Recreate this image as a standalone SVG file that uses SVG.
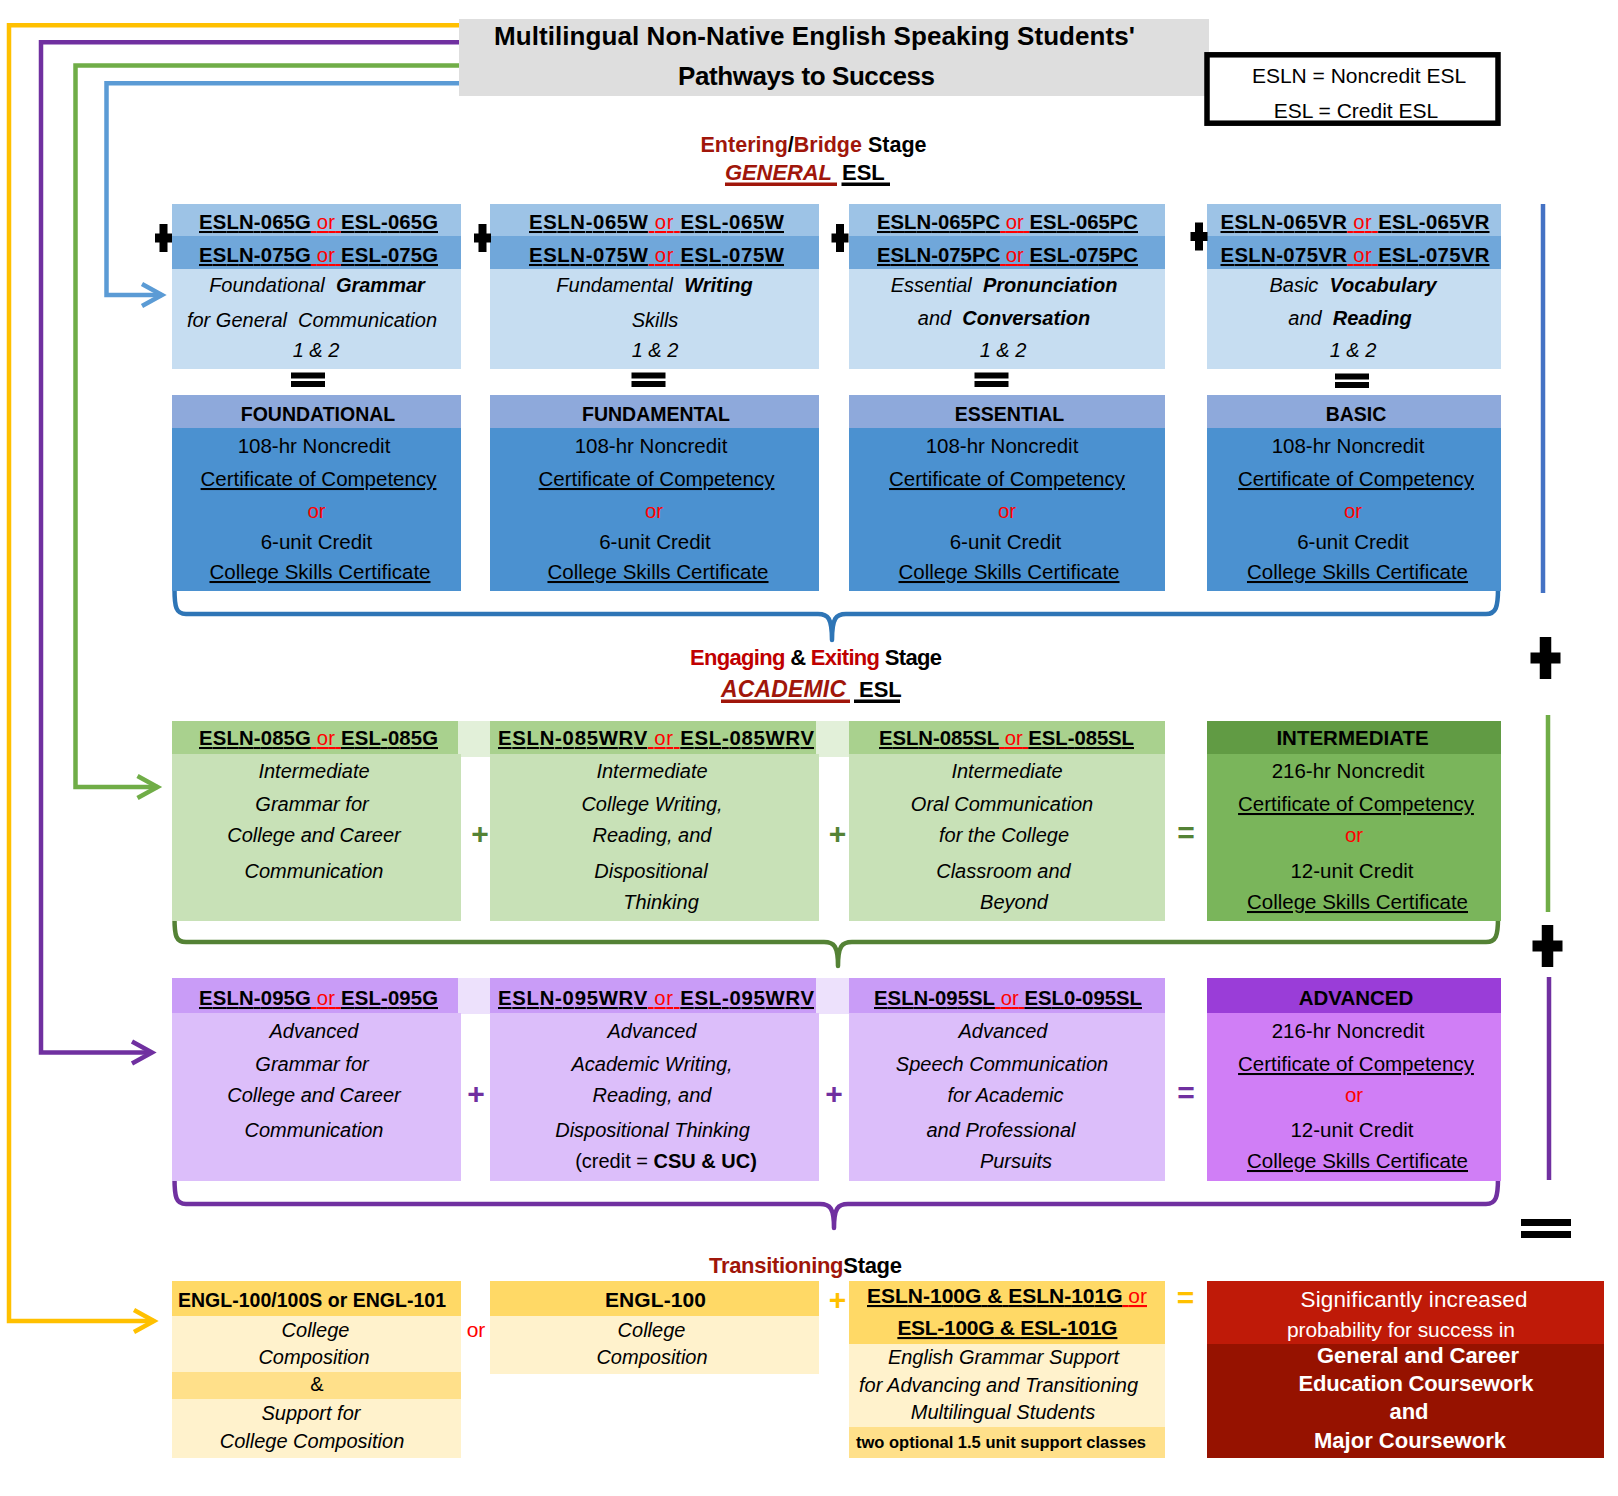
<svg xmlns="http://www.w3.org/2000/svg" width="1618" height="1496" viewBox="0 0 1618 1496">
<defs>
<style>
text{font-family:"Liberation Sans",Arial,sans-serif;fill:#000}
.m{text-anchor:middle}
.b{font-weight:bold}
.i{font-style:italic}
.hdr{font-size:20.3px;font-weight:bold}
.desc{font-size:20px;font-style:italic}
.cert{font-size:20.5px}
.certh{font-size:19.5px;font-weight:bold}
.n{font-weight:normal}
.u{text-decoration:underline;text-decoration-thickness:3px}
.r{fill:#FF0000}
.dr{fill:#A0160A}
.rr{fill:#C00000}
.w{fill:#FFFFFF}
.g{fill:#548235}
.p{fill:#7030A0}
.y{fill:#FFC000}
.op{font-size:30px;font-weight:bold;text-anchor:middle;dominant-baseline:central}
.conn{fill:none;stroke-width:4.5}
.brace{fill:none;stroke-width:4.5;stroke-linejoin:round}
</style>
<marker id="arY" viewBox="-24 -14 30 28" markerWidth="30" markerHeight="28" markerUnits="userSpaceOnUse" refX="0" refY="0" orient="auto" overflow="visible"><path d="M-20,-11 L0,0 L-20,11" fill="none" stroke="#FFC000" stroke-width="4.5"/></marker>
<marker id="arP" viewBox="-24 -14 30 28" markerWidth="30" markerHeight="28" markerUnits="userSpaceOnUse" refX="0" refY="0" orient="auto" overflow="visible"><path d="M-20,-11 L0,0 L-20,11" fill="none" stroke="#7030A0" stroke-width="4.5"/></marker>
<marker id="arG" viewBox="-24 -14 30 28" markerWidth="30" markerHeight="28" markerUnits="userSpaceOnUse" refX="0" refY="0" orient="auto" overflow="visible"><path d="M-20,-11 L0,0 L-20,11" fill="none" stroke="#70AD47" stroke-width="4.5"/></marker>
<marker id="arB" viewBox="-24 -14 30 28" markerWidth="30" markerHeight="28" markerUnits="userSpaceOnUse" refX="0" refY="0" orient="auto" overflow="visible"><path d="M-20,-11 L0,0 L-20,11" fill="none" stroke="#5B9BD5" stroke-width="4.5"/></marker>
<path id="plusS" d="M-4,-14 H4 V-4.5 H8.5 V4.5 H4 V14 H-4 V4.5 H-8.5 V-4.5 H-4 Z"/>
<path id="plusL" d="M-5.75,-21 H5.75 V-5.5 H15 V5.5 H5.75 V21 H-5.75 V5.5 H-15 V-5.5 H-5.75 Z"/>
<g id="eqS"><rect x="-17" y="-7.5" width="34" height="6"/><rect x="-17" y="1" width="34" height="6"/></g>
</defs>
<rect width="1618" height="1496" fill="#FFFFFF"/>

<g id="connectors">
<path class="conn" stroke="#FFC000" d="M459,25.3 H9 V1321 H154" marker-end="url(#arY)"/>
<path class="conn" stroke="#7030A0" d="M459,42.3 H41 V1052.5 H152" marker-end="url(#arP)"/>
<path class="conn" stroke="#70AD47" d="M459,65.5 H75.5 V787 H157.5" marker-end="url(#arG)"/>
<path class="conn" stroke="#5B9BD5" d="M459,83.3 H106.5 V295 H162" marker-end="url(#arB)"/>
<path class="brace" stroke="#2E75B6" d="M174.5,589 C174.5,607 176,614 186,614 L818,614 C828,614 832,618 832,640 C832,618 836,614 846,614 L1486,614 C1496,614 1498,607 1498,589"/>
<path class="brace" stroke="#548235" d="M174.5,918 C174.5,936 176,942 186,942 L824,942 C834,942 838,946 838,966 C838,946 842,942 852,942 L1486,942 C1496,942 1498,936 1498,918"/>
<path class="brace" stroke="#7030A0" d="M174.5,1178 C174.5,1197 176,1204 186,1204 L820,1204 C830,1204 834,1208 834,1228 C834,1208 838,1204 848,1204 L1486,1204 C1496,1204 1498,1197 1498,1178"/>
<line x1="1543" y1="204" x2="1543" y2="593" stroke="#4472C4" stroke-width="4.5"/>
<line x1="1548" y1="715" x2="1548" y2="912" stroke="#70AD47" stroke-width="4.5"/>
<line x1="1549" y1="977" x2="1549" y2="1180" stroke="#7030A0" stroke-width="4.5"/>
</g>

<g id="title">
<rect x="459" y="19" width="750" height="77" fill="#DEDEDE"/>
<text class="b m" x="814.5" y="45" style="font-size:26px" textLength="641">Multilingual Non-Native English Speaking Students'</text>
<text class="b m" x="806.5" y="85" style="font-size:26px" textLength="257">Pathways to Success</text>
</g>

<g id="legend">
<rect x="1207" y="54.8" width="291" height="68.4" fill="#FFFFFF" stroke="#000" stroke-width="5.5"/>
<text class="m" x="1359" y="82.5" style="font-size:21px">ESLN = Noncredit ESL</text>
<text class="m" x="1356" y="118" style="font-size:21px">ESL = Credit ESL</text>
</g>

<g id="stage-general">
<text class="b" x="700.5" y="152" style="font-size:21.5px" textLength="226"><tspan class="dr">Entering</tspan>/<tspan class="dr">Bridge</tspan> Stage</text>
<text class="b i dr" x="725" y="180" style="font-size:22px" textLength="107">GENERAL</text>
<text class="b" x="842" y="180" style="font-size:22px">ESL</text>
<rect x="725" y="182.5" width="112" height="3.5" fill="#A0160A"/>
<rect x="841.5" y="182.5" width="48.5" height="3.5" fill="#000"/>
</g>

<g id="course-grammar-general">
<rect x="172" y="204" width="289" height="32" fill="#9DC3E6"/>
<rect x="172" y="236" width="289" height="33" fill="#70A7DA"/>
<rect x="172" y="269" width="289" height="100" fill="#C6DDF1"/>
<text class="hdr m" x="318.5" y="229" textLength="239"><tspan class="u">ESLN-065G</tspan><tspan class="u r n"> or </tspan><tspan class="u">ESL-065G</tspan></text>
<text class="hdr m" x="318.5" y="262" textLength="239"><tspan class="u">ESLN-075G</tspan><tspan class="u r n"> or </tspan><tspan class="u">ESL-075G</tspan></text>
<text class="desc m" x="317" y="292" xml:space="preserve">Foundational  <tspan class="b">Grammar</tspan></text>
<text class="desc m" x="312" y="327" xml:space="preserve">for General  Communication</text>
<text class="desc m" x="316" y="357">1 &amp; 2</text>
</g>

<g id="course-writing-general">
<rect x="490" y="204" width="329" height="32" fill="#9DC3E6"/>
<rect x="490" y="236" width="329" height="33" fill="#70A7DA"/>
<rect x="490" y="269" width="329" height="100" fill="#C6DDF1"/>
<text class="hdr m" x="656.5" y="229" textLength="255"><tspan class="u">ESLN-065W</tspan><tspan class="u r n"> or </tspan><tspan class="u">ESL-065W</tspan></text>
<text class="hdr m" x="656.5" y="262" textLength="255"><tspan class="u">ESLN-075W</tspan><tspan class="u r n"> or </tspan><tspan class="u">ESL-075W</tspan></text>
<text class="desc m" x="654.5" y="292" xml:space="preserve">Fundamental  <tspan class="b">Writing</tspan></text>
<text class="desc m" x="655" y="327">Skills</text>
<text class="desc m" x="655" y="357">1 &amp; 2</text>
</g>

<g id="course-pronunciation-general">
<rect x="849" y="204" width="316" height="32" fill="#9DC3E6"/>
<rect x="849" y="236" width="316" height="33" fill="#70A7DA"/>
<rect x="849" y="269" width="316" height="100" fill="#C6DDF1"/>
<text class="hdr m" x="1007.5" y="229" textLength="261"><tspan class="u">ESLN-065PC</tspan><tspan class="u r n"> or </tspan><tspan class="u">ESL-065PC</tspan></text>
<text class="hdr m" x="1007.5" y="262" textLength="261"><tspan class="u">ESLN-075PC</tspan><tspan class="u r n"> or </tspan><tspan class="u">ESL-075PC</tspan></text>
<text class="desc m" x="1004" y="292" xml:space="preserve">Essential  <tspan class="b">Pronunciation</tspan></text>
<text class="desc m" x="1004" y="325" xml:space="preserve">and  <tspan class="b">Conversation</tspan></text>
<text class="desc m" x="1003" y="357">1 &amp; 2</text>
</g>

<g id="course-vocabulary-general">
<rect x="1207" y="204" width="294" height="32" fill="#9DC3E6"/>
<rect x="1207" y="236" width="294" height="33" fill="#70A7DA"/>
<rect x="1207" y="269" width="294" height="100" fill="#C6DDF1"/>
<text class="hdr m" x="1355" y="229" textLength="269"><tspan class="u">ESLN-065VR</tspan><tspan class="u r n"> or </tspan><tspan class="u">ESL-065VR</tspan></text>
<text class="hdr m" x="1355" y="262" textLength="269"><tspan class="u">ESLN-075VR</tspan><tspan class="u r n"> or </tspan><tspan class="u">ESL-075VR</tspan></text>
<text class="desc m" x="1353" y="292" xml:space="preserve">Basic  <tspan class="b">Vocabulary</tspan></text>
<text class="desc m" x="1350" y="325" xml:space="preserve">and  <tspan class="b">Reading</tspan></text>
<text class="desc m" x="1353" y="357">1 &amp; 2</text>
</g>

<g id="cert-foundational">
<rect x="172" y="395" width="289" height="33" fill="#8EA9DB"/>
<rect x="172" y="428" width="289" height="163" fill="#4B91D0"/>
<text class="certh m" x="318" y="421">FOUNDATIONAL</text>
<text class="cert m" x="314" y="453">108-hr Noncredit</text>
<text class="cert m u" x="318.5" y="486">Certificate of Competency</text>
<text class="cert m r" x="316.5" y="518">or</text>
<text class="cert m" x="316.5" y="549">6-unit Credit</text>
<text class="cert m u" x="320" y="579">College Skills Certificate</text>
</g>

<g id="cert-fundamental">
<rect x="490" y="395" width="329" height="33" fill="#8EA9DB"/>
<rect x="490" y="428" width="329" height="163" fill="#4B91D0"/>
<text class="certh m" x="656" y="421">FUNDAMENTAL</text>
<text class="cert m" x="651" y="453">108-hr Noncredit</text>
<text class="cert m u" x="656.5" y="486">Certificate of Competency</text>
<text class="cert m r" x="654" y="518">or</text>
<text class="cert m" x="655" y="549">6-unit Credit</text>
<text class="cert m u" x="658" y="579">College Skills Certificate</text>
</g>

<g id="cert-essential">
<rect x="849" y="395" width="316" height="33" fill="#8EA9DB"/>
<rect x="849" y="428" width="316" height="163" fill="#4B91D0"/>
<text class="certh m" x="1009.5" y="421">ESSENTIAL</text>
<text class="cert m" x="1002" y="453">108-hr Noncredit</text>
<text class="cert m u" x="1007" y="486">Certificate of Competency</text>
<text class="cert m r" x="1007" y="518">or</text>
<text class="cert m" x="1005.5" y="549">6-unit Credit</text>
<text class="cert m u" x="1009" y="579">College Skills Certificate</text>
</g>

<g id="cert-basic">
<rect x="1207" y="395" width="294" height="33" fill="#8EA9DB"/>
<rect x="1207" y="428" width="294" height="163" fill="#4B91D0"/>
<text class="certh m" x="1356" y="421">BASIC</text>
<text class="cert m" x="1348" y="453">108-hr Noncredit</text>
<text class="cert m u" x="1356" y="486">Certificate of Competency</text>
<text class="cert m r" x="1353" y="518">or</text>
<text class="cert m" x="1353" y="549">6-unit Credit</text>
<text class="cert m u" x="1357.5" y="579">College Skills Certificate</text>
</g>

<g id="stage-academic">
<text class="b" x="690" y="665" style="font-size:22px" textLength="252"><tspan class="rr">Engaging</tspan> &amp; <tspan class="rr">Exiting</tspan> Stage</text>
<text class="b i dr" x="721" y="697" style="font-size:23px" textLength="125">ACADEMIC</text>
<text class="b" x="859" y="697" style="font-size:22px">ESL</text>
<rect x="721" y="699.5" width="129" height="3.5" fill="#A0160A"/>
<rect x="854" y="699.5" width="46" height="3.5" fill="#000"/>
</g>

<g id="band-intermediate">
<rect x="172" y="721" width="993" height="36" fill="#E2F0D9"/>
</g>

<g id="course-grammar-intermediate">
<rect x="172" y="721" width="286" height="33" fill="#A9D18E"/>
<rect x="172" y="754" width="289" height="167" fill="#C8E1B7"/>
<text class="hdr m" x="318.5" y="745" textLength="239"><tspan class="u">ESLN-085G</tspan><tspan class="u r n"> or </tspan><tspan class="u">ESL-085G</tspan></text>
<text class="desc m" x="314" y="778">Intermediate</text>
<text class="desc m" x="312" y="811">Grammar for</text>
<text class="desc m" x="314" y="842">College and Career</text>
<text class="desc m" x="314" y="878">Communication</text>
</g>

<g id="course-writing-intermediate">
<rect x="490" y="721" width="326" height="33" fill="#A9D18E"/>
<rect x="490" y="754" width="329" height="167" fill="#C8E1B7"/>
<text class="hdr m" x="656" y="745" textLength="316"><tspan class="u">ESLN-085WRV</tspan><tspan class="u r n"> or </tspan><tspan class="u">ESL-085WRV</tspan></text>
<text class="desc m" x="652" y="778">Intermediate</text>
<text class="desc m" x="652" y="811">College Writing,</text>
<text class="desc m" x="652" y="842">Reading, and</text>
<text class="desc m" x="651" y="878">Dispositional</text>
<text class="desc m" x="661" y="909">Thinking</text>
</g>

<g id="course-oral-intermediate">
<rect x="849" y="721" width="316" height="33" fill="#A9D18E"/>
<rect x="849" y="754" width="316" height="167" fill="#C8E1B7"/>
<text class="hdr m" x="1006.5" y="745" textLength="255"><tspan class="u">ESLN-085SL</tspan><tspan class="u r n"> or </tspan><tspan class="u">ESL-085SL</tspan></text>
<text class="desc m" x="1007" y="778">Intermediate</text>
<text class="desc m" x="1002" y="811">Oral Communication</text>
<text class="desc m" x="1004" y="842">for the College</text>
<text class="desc m" x="1003.5" y="878">Classroom and</text>
<text class="desc m" x="1014" y="909">Beyond</text>
</g>

<g id="cert-intermediate">
<rect x="1207" y="721" width="294" height="33" fill="#619B44"/>
<rect x="1207" y="754" width="294" height="167" fill="#7AB55B"/>
<text class="certh m" x="1352.5" y="745" style="font-size:20.5px">INTERMEDIATE</text>
<text class="cert m" x="1348" y="778">216-hr Noncredit</text>
<text class="cert m u" x="1356" y="811">Certificate of Competency</text>
<text class="cert m r" x="1354" y="842">or</text>
<text class="cert m" x="1352" y="878">12-unit Credit</text>
<text class="cert m u" x="1357.5" y="909">College Skills Certificate</text>
</g>

<g id="band-advanced">
<rect x="172" y="978" width="993" height="36" fill="#EDE1FC"/>
</g>

<g id="course-grammar-advanced">
<rect x="172" y="978" width="286" height="35" fill="#C99CF7"/>
<rect x="172" y="1013" width="289" height="168" fill="#DCBEFA"/>
<text class="hdr m" x="318.5" y="1005" textLength="239"><tspan class="u">ESLN-095G</tspan><tspan class="u r n"> or </tspan><tspan class="u">ESL-095G</tspan></text>
<text class="desc m" x="314" y="1038">Advanced</text>
<text class="desc m" x="312" y="1071">Grammar for</text>
<text class="desc m" x="314" y="1102">College and Career</text>
<text class="desc m" x="314" y="1137">Communication</text>
</g>

<g id="course-writing-advanced">
<rect x="490" y="978" width="326" height="35" fill="#C99CF7"/>
<rect x="490" y="1013" width="329" height="168" fill="#DCBEFA"/>
<text class="hdr m" x="656" y="1005" textLength="316"><tspan class="u">ESLN-095WRV</tspan><tspan class="u r n"> or </tspan><tspan class="u">ESL-095WRV</tspan></text>
<text class="desc m" x="652" y="1038">Advanced</text>
<text class="desc m" x="652" y="1071">Academic Writing,</text>
<text class="desc m" x="652" y="1102">Reading, and</text>
<text class="desc m" x="652.5" y="1137">Dispositional Thinking</text>
<text class="m" x="666" y="1168" style="font-size:20px">(credit = <tspan class="b">CSU &amp; UC)</tspan></text>
</g>

<g id="course-speech-advanced">
<rect x="849" y="978" width="316" height="35" fill="#C99CF7"/>
<rect x="849" y="1013" width="316" height="168" fill="#DCBEFA"/>
<text class="hdr m" x="1008" y="1005" textLength="268"><tspan class="u">ESLN-095SL</tspan><tspan class="u r n"> or </tspan><tspan class="u">ESL0-095SL</tspan></text>
<text class="desc m" x="1003" y="1038">Advanced</text>
<text class="desc m" x="1002" y="1071">Speech Communication</text>
<text class="desc m" x="1005.5" y="1102">for Academic</text>
<text class="desc m" x="1001" y="1137">and Professional</text>
<text class="desc m" x="1016" y="1168">Pursuits</text>
</g>

<g id="cert-advanced">
<rect x="1207" y="978" width="294" height="35" fill="#9A3DD8"/>
<rect x="1207" y="1013" width="294" height="168" fill="#D07EF6"/>
<text class="certh m" x="1356" y="1005" style="font-size:20.5px">ADVANCED</text>
<text class="cert m" x="1348" y="1038">216-hr Noncredit</text>
<text class="cert m u" x="1356" y="1071">Certificate of Competency</text>
<text class="cert m r" x="1354" y="1102">or</text>
<text class="cert m" x="1352" y="1137">12-unit Credit</text>
<text class="cert m u" x="1357.5" y="1168">College Skills Certificate</text>
</g>

<g id="stage-transitioning">
<text class="b" x="709" y="1273" style="font-size:22px" textLength="193"><tspan class="dr">Transitioning</tspan>Stage</text>
</g>

<g id="course-engl-100-100s-101">
<rect x="172" y="1281" width="289" height="35" fill="#FFD966"/>
<rect x="172" y="1316" width="289" height="56" fill="#FFF2CC"/>
<rect x="172" y="1372" width="289" height="27" fill="#FFE08A"/>
<rect x="172" y="1399" width="289" height="59" fill="#FFF2CC"/>
<text class="b m" x="312" y="1307" style="font-size:19.5px" textLength="268">ENGL-100/100S or ENGL-101</text>
<text class="desc m" x="315.5" y="1337">College</text>
<text class="desc m" x="314" y="1364">Composition</text>
<text class="m" x="317" y="1391" style="font-size:20px">&amp;</text>
<text class="desc m" x="311" y="1420">Support for</text>
<text class="desc m" x="312" y="1448">College Composition</text>
</g>

<g id="course-engl-100">
<rect x="490" y="1281" width="329" height="35" fill="#FFD966"/>
<rect x="490" y="1316" width="329" height="58" fill="#FFF2CC"/>
<text class="b m" x="655.5" y="1307" style="font-size:21px" textLength="101">ENGL-100</text>
<text class="desc m" x="651.5" y="1337">College</text>
<text class="desc m" x="652" y="1364">Composition</text>
</g>

<g id="course-grammar-support">
<rect x="849" y="1281" width="316" height="63" fill="#FFD966"/>
<rect x="849" y="1344" width="316" height="83" fill="#FFF2CC"/>
<rect x="849" y="1427" width="316" height="31" fill="#FFE08A"/>
<text class="hdr m" x="1007" y="1303" style="font-size:21px" textLength="280"><tspan class="u">ESLN-100G &amp; ESLN-101G</tspan><tspan class="u r n"> or</tspan></text>
<text class="hdr m" x="1007.4" y="1335" style="font-size:21px" textLength="220"><tspan class="u">ESL-100G &amp; ESL-101G</tspan></text>
<text class="desc m" x="1003.5" y="1364">English Grammar Support</text>
<text class="desc m" x="998.5" y="1392">for Advancing and Transitioning</text>
<text class="desc m" x="1003" y="1419">Multilingual Students</text>
<text class="b m" x="1001" y="1448" style="font-size:16.5px" textLength="290">two optional 1.5 unit support classes</text>
</g>

<g id="outcome-success">
<rect x="1207" y="1281" width="397" height="63" fill="#BF1A08"/>
<rect x="1207" y="1344" width="397" height="114" fill="#961200"/>
<text class="w m" x="1414" y="1307" style="font-size:22.5px" textLength="227">Significantly increased</text>
<text class="w m" x="1401" y="1337" style="font-size:21px" textLength="228">probability for success in</text>
<text class="w b m" x="1418" y="1363" style="font-size:22px" textLength="202">General and Career</text>
<text class="w b m" x="1416" y="1391" style="font-size:22px" textLength="235">Education Coursework</text>
<text class="w b m" x="1409" y="1419" style="font-size:22px">and</text>
<text class="w b m" x="1410" y="1448" style="font-size:22px">Major Coursework</text>
</g>

<g id="operators">
<use href="#plusS" x="163.5" y="238"/>
<use href="#plusS" x="482.5" y="238"/>
<use href="#plusS" x="840" y="238"/>
<use href="#plusS" x="1199" y="236.5"/>
<use href="#eqS" x="308" y="380"/>
<use href="#eqS" x="648.5" y="380"/>
<use href="#eqS" x="991.5" y="380"/>
<use href="#eqS" x="1352" y="381"/>
<use href="#plusL" x="1545.5" y="658"/>
<use href="#plusL" x="1547.5" y="946"/>
<rect x="1521" y="1219" width="50" height="7"/>
<rect x="1521" y="1231" width="50" height="7"/>
<text class="op g" x="480" y="833">+</text>
<text class="op g" x="837.5" y="833">+</text>
<text class="op g" x="1186" y="832">=</text>
<text class="op p" x="476" y="1093">+</text>
<text class="op p" x="834" y="1093">+</text>
<text class="op p" x="1186" y="1092">=</text>
<text class="r" x="476" y="1337" style="font-size:21px;text-anchor:middle">or</text>
<text class="op y" x="837.5" y="1299">+</text>
<text class="op y" x="1185.5" y="1297.5">=</text>
</g>
</svg>
